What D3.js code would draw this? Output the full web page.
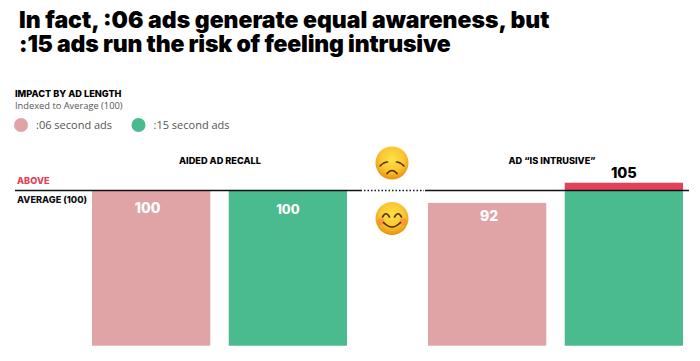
<!DOCTYPE html>
<html>
<head>
<meta charset="utf-8">
<script src="https://cdn.jsdelivr.net/npm/d3@7"></script>
<style>
  html, body { margin: 0; padding: 0; background: #fff; }
  svg { display: block; }
  text { font-family: "Inter", "Open Sans", sans-serif; }
</style>
</head>
<body>
<div id="chart"></div>
<script>
var titleLines = ["In fact, :06 ads generate equal awareness, but", ":15 ads run the risk of feeling intrusive"]
var groups = ["AIDED AD RECALL", "AD \u201cIS INTRUSIVE\u201d"]
var seriesNames = [":06 second ads", ":15 second ads"]
var recallValues = [100, 100]
var intrusiveValues = [92, 105]
var average = 100

var width = 700, height = 361
var color = { ":06 second ads": "#e0a4a7", ":15 second ads": "#4aba8f" }
var above = "#e4405a"

var svg = d3.select("#chart").append("svg")
    .attr("width", width)
    .attr("height", height)

// title
svg.selectAll(".title").data(titleLines).enter().append("text")
    .attr("class", "title")
    .attr("x", 19)
    .attr("y", function(d, i){ return 28 + i * 24; })
    .attr("font-size", 23)
    .attr("font-weight", 900)
    .attr("letter-spacing", function(d, i){ return [0, -0.2][i]; })
    .attr("fill", "#000")
    .text(function(d){ return d; })

// legend
svg.append("text").attr("x", 15).attr("y", 97)
    .attr("font-size", 9.2).attr("font-weight", 800).attr("fill", "#000")
    .text("IMPACT BY AD LENGTH")
svg.append("text").attr("x", 15).attr("y", 109)
    .style("font-family", "Open Sans")
    .attr("font-size", 9.3).attr("fill", "#555")
    .text("Indexed to Average (100)")

var legend = svg.selectAll(".legend").data(seriesNames).enter().append("g")
    .attr("class", "legend")
    .attr("transform", function(d, i){ return "translate(" + [21, 138.5][i] + ",125)"; })
legend.append("circle").attr("r", 7).attr("fill", function(d){ return color[d]; })
legend.append("text")
    .attr("x", 15).attr("y", 4)
    .style("font-family", "Open Sans")
    .attr("font-size", 11).attr("fill", "#555")
    .text(function(d){ return d; })

// scales
var x0 = d3.scalePoint().domain(groups).range([92, 428])
var groupWidth = 255
var x1 = d3.scaleBand().domain(seriesNames).range([0, groupWidth]).paddingInner(0.135)
var y = d3.scaleLinear().domain([0, 100]).range([345.7, 190.5])

var barData = [
    { group: groups[0], values: recallValues },
    { group: groups[1], values: intrusiveValues }
]

var gGroup = svg.selectAll(".group").data(barData).enter().append("g")
    .attr("class", "group")
    .attr("transform", function(d){ return "translate(" + x0(d.group) + ",0)"; })

var bars = gGroup.selectAll(".bar")
    .data(function(d, g){
        return d.values.map(function(v, i){ return { name: seriesNames[i], val: v, g: g, i: i }; })
    })
    .enter().append("g").attr("class", "bar")

bars.append("rect")
    .attr("x", function(d){ return x1(d.name); })
    .attr("width", x1.bandwidth())
    .attr("y", function(d){ return y(Math.min(d.val, average)); })
    .attr("height", function(d){ return y(0) - y(Math.min(d.val, average)); })
    .attr("fill", function(d){ return color[d.name]; })

// the part above average is red
bars.filter(function(d){ return d.val > average; }).append("rect")
    .attr("x", function(d){ return x1(d.name); })
    .attr("width", x1.bandwidth())
    .attr("y", function(d){ return y(d.val); })
    .attr("height", function(d){ return y(average) - y(d.val); })
    .attr("fill", above)

// labels were placed by hand in the original, so each has its own nudge
var labelNudge = [[[-3.5, 22], [0, 23.5]], [[2, 18], [0, -5]]]
bars.append("text")
    .attr("x", function(d){ return x1(d.name) + x1.bandwidth() / 2 + labelNudge[d.g][d.i][0]; })
    .attr("y", function(d){ return y(d.val) + labelNudge[d.g][d.i][1]; })
    .attr("text-anchor", "middle")
    .attr("font-size", function(d){ return d.val > average ? 14.5 : (d.g == 0 && d.i == 1 ? 12.8 : 14); })
    .attr("font-weight", 800)
    .attr("fill", function(d){ return d.val > average ? "#000" : "#fff"; })
    .text(function(d){ return d.val; })

// group headings
svg.selectAll(".heading").data(groups).enter().append("text")
    .attr("class", "heading")
    .attr("x", function(d, i){ return [220, 552][i]; })
    .attr("y", 164)
    .attr("text-anchor", "middle")
    .attr("font-size", 9.2)
    .attr("font-weight", 800)
    .attr("fill", "#000")
    .text(function(d){ return d; })

// average line, dotted across the gap between groups
var axisY = y(average)
svg.append("line").attr("x1", 15).attr("x2", 362).attr("y1", axisY).attr("y2", axisY)
    .attr("stroke", "#111").attr("stroke-width", 1.3)
svg.append("line").attr("x1", 364).attr("x2", 424).attr("y1", axisY).attr("y2", axisY)
    .attr("stroke", "#111").attr("stroke-width", 1.3).attr("stroke-dasharray", "1.5 2")
svg.append("line").attr("x1", 425).attr("x2", 689).attr("y1", axisY).attr("y2", axisY)
    .attr("stroke", "#111").attr("stroke-width", 1.3)

svg.append("text").attr("x", 17).attr("y", 184)
    .attr("font-size", 9.2).attr("font-weight", 800).attr("fill", above)
    .text("ABOVE")
svg.append("text").attr("x", 17).attr("y", 203)
    .attr("font-size", 9.2).attr("font-weight", 800).attr("fill", "#111")
    .text("AVERAGE (100)")

// emoji drawn by hand, there is no colour emoji font
var defs = svg.append("defs")
var grad = defs.append("radialGradient").attr("id", "face")
    .attr("cx", "50%").attr("cy", "38%").attr("r", "62%")
grad.append("stop").attr("offset", "0%").attr("stop-color", "#fde047")
grad.append("stop").attr("offset", "60%").attr("stop-color", "#fbc531")
grad.append("stop").attr("offset", "100%").attr("stop-color", "#e8900f")

function drawFace(cx, cy){
    var g = svg.append("g").attr("transform", "translate(" + cx + "," + cy + ")")
    g.append("circle").attr("r", 16.5).attr("fill", "url(#face)")
    return g
}
function stroke(g, d, w){
    g.append("path").attr("d", d).attr("fill", "none")
        .attr("stroke", "#4e3413").attr("stroke-width", w).attr("stroke-linecap", "round")
}

var sad = drawFace(392, 163)
stroke(sad, "M-12,3 Q-8,-1 -4.5,-1", 1.6)
stroke(sad, "M12,3 Q8,-1 4.5,-1", 1.6)
stroke(sad, "M-5,10.5 Q0,4.5 5,10.5", 1.7)

var happy = drawFace(392, 218.5)
happy.append("circle").attr("cx", -11).attr("cy", 3).attr("r", 3.5).attr("fill", "#f47a3c").attr("opacity", 0.5)
happy.append("circle").attr("cx", 11).attr("cy", 3).attr("r", 3.5).attr("fill", "#f47a3c").attr("opacity", 0.5)
stroke(happy, "M-9.5,-1.5 Q-6,-8 -2.5,-1.5", 1.6)
stroke(happy, "M9.5,-1.5 Q6,-8 2.5,-1.5", 1.6)
stroke(happy, "M-8.5,4 Q0,13 8.5,4", 1.7)
</script>
</body>
</html>
